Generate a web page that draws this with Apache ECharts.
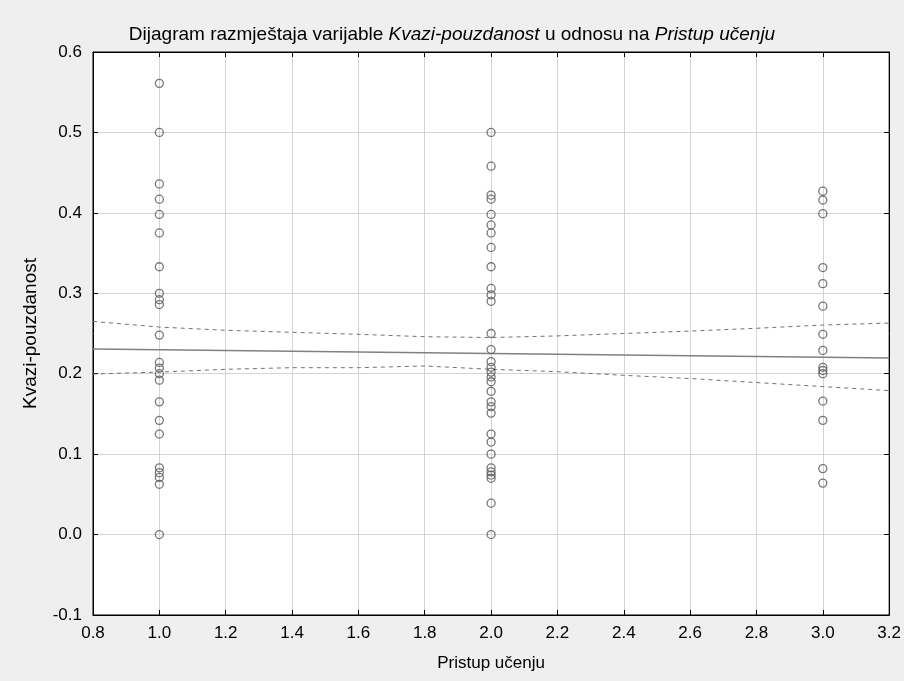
<!DOCTYPE html>
<html><head><meta charset="utf-8">
<script src="https://cdn.jsdelivr.net/npm/echarts@6/dist/echarts.min.js"></script>
<style>html,body{margin:0;padding:0;background:#efefef}#c{width:904px;height:681px}</style>
</head><body><div id="c"></div>
<script>
const group1 = [0.561, 0.5, 0.436, 0.417, 0.398, 0.375, 0.333, 0.300, 0.292, 0.286, 0.248, 0.214, 0.207, 0.200, 0.192, 0.165, 0.142, 0.125, 0.083, 0.077, 0.071, 0.0625, 0.0];
const group2 = [0.5, 0.458, 0.422, 0.417, 0.398, 0.385, 0.375, 0.357, 0.333, 0.306, 0.298, 0.290, 0.250, 0.230, 0.215, 0.208, 0.202, 0.196, 0.190, 0.178, 0.165, 0.159, 0.151, 0.125, 0.115, 0.100, 0.083, 0.078, 0.074, 0.070, 0.039, 0.0];
const group3 = [0.427, 0.416, 0.399, 0.332, 0.312, 0.284, 0.249, 0.229, 0.208, 0.204, 0.200, 0.166, 0.142, 0.082, 0.064];
const groupX = [1, 2, 3];
const bandX = [0.8, 1.0, 1.2, 1.4, 1.6, 1.8, 2.0, 2.2, 2.4, 2.6, 2.8, 3.0, 3.2];
const upperBand = [0.265, 0.258, 0.254, 0.2515, 0.249, 0.246, 0.245, 0.247, 0.250, 0.253, 0.2565, 0.2605, 0.263];
const lowerBand = [0.1996, 0.202, 0.2055, 0.2075, 0.2075, 0.2096, 0.2055, 0.2025, 0.198, 0.194, 0.189, 0.184, 0.179];
const fitX = [0.8, 3.2];
const fitY = [0.2307, 0.2195];

const pts = [];
[group1, group2, group3].forEach((g, i) => g.forEach(v => pts.push([groupX[i], v])));
const zip = (xs, ys) => xs.map((x, i) => [x, ys[i]]);

const chart = echarts.init(document.getElementById('c'));
const font = 'Liberation Sans, Arial, sans-serif';
const tickStyle = {show: true, inside: true, length: 5, lineStyle: {color: '#000'}};
chart.setOption({
  backgroundColor: '#efefef',
  animation: false,
  title: {
    text: '{n|Dijagram razmještaja varijable }{i|Kvazi-pouzdanost}{n| u odnosu na }{i|Pristup učenju}',
    left: 'center', top: 20,
    textStyle: {
      rich: {
        n: {fontFamily: font, fontSize: 19, color: '#000', fontWeight: 'normal'},
        i: {fontFamily: font, fontSize: 19, color: '#000', fontStyle: 'italic', fontWeight: 'normal'}
      }
    }
  },
  grid: {left: 93, right: 14, top: 52, bottom: 66, show: true, backgroundColor: '#fff', borderColor: '#000', borderWidth: 1},
  xAxis: [{
    type: 'value', min: 0.8, max: 3.2, interval: 0.2,
    name: 'Pristup učenju', nameLocation: 'middle', nameGap: 40,
    nameTextStyle: {fontFamily: font, fontSize: 17, color: '#000'},
    axisLine: {show: true, onZero: false, lineStyle: {color: '#000'}},
    axisTick: tickStyle,
    axisLabel: {fontFamily: font, fontSize: 17, color: '#000', margin: 10, formatter: v => v.toFixed(1)},
    splitLine: {show: true, lineStyle: {color: '#d4d4d4', width: 1}}
  }, {
    type: 'value', min: 0.8, max: 3.2, interval: 0.2, position: 'top',
    axisLine: {show: true, onZero: false, lineStyle: {color: '#000'}},
    axisTick: tickStyle,
    axisLabel: {show: false}, splitLine: {show: false}
  }],
  yAxis: [{
    type: 'value', min: -0.1, max: 0.6, interval: 0.1,
    name: 'Kvazi-pouzdanost', nameLocation: 'middle', nameGap: 53,
    nameTextStyle: {fontFamily: font, fontSize: 19, color: '#000'},
    axisLine: {show: true, onZero: false, lineStyle: {color: '#000'}},
    axisTick: tickStyle,
    axisLabel: {fontFamily: font, fontSize: 17, color: '#000', margin: 11, formatter: v => v.toFixed(1)},
    splitLine: {show: true, lineStyle: {color: '#d4d4d4', width: 1}}
  }, {
    type: 'value', min: -0.1, max: 0.6, interval: 0.1, position: 'right',
    axisLine: {show: true, onZero: false, lineStyle: {color: '#000'}},
    axisTick: tickStyle,
    axisLabel: {show: false}, splitLine: {show: false}
  }],
  series: [
    {type: 'line', data: zip(fitX, fitY), symbol: 'none', lineStyle: {color: '#808080', width: 1.5}, z: 3},
    {type: 'line', data: zip(bandX, upperBand), symbol: 'none', lineStyle: {color: '#707070', width: 1, type: [4, 4]}, z: 3},
    {type: 'line', data: zip(bandX, lowerBand), symbol: 'none', lineStyle: {color: '#707070', width: 1, type: [4, 4]}, z: 3},
    {type: 'scatter', data: pts, symbol: 'circle', symbolSize: 8,
     itemStyle: {color: 'rgba(255,255,255,0)', borderColor: '#555', borderWidth: 1.3}, z: 4}
  ]
});
</script></body></html>
